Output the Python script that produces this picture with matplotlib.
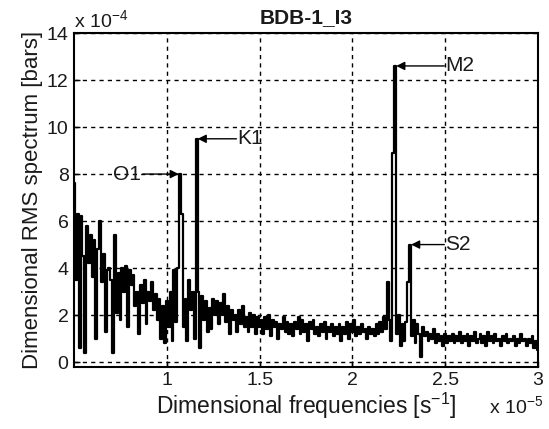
import numpy as np
import matplotlib
matplotlib.use("Agg")
import matplotlib.pyplot as plt

plt.rcParams['font.family'] = ['Liberation Sans', 'DejaVu Sans']
plt.rcParams['mathtext.fontset'] = 'custom'
plt.rcParams['mathtext.rm'] = 'Liberation Sans'
plt.rcParams['mathtext.it'] = 'Liberation Sans:italic'
plt.rcParams['mathtext.bf'] = 'Liberation Sans:bold'

# Frequencies in units of 1e-5 s^-1 (spectral grid 0.50 .. 3.00, step 0.01)
freq_start, freq_stop = 0.50, 3.00
# RMS spectrum in units of 1e-4 bars
rms = [
    7.6, 3.5, 6.3, 0.6, 6.2, 4.5, 0.4, 5.8, 4.2, 5.4,   # 0.50-0.59
    3.6, 5.2, 1.0, 4.8, 6.0, 3.4, 4.6, 1.3, 3.9, 4.0,   # 0.60-0.69
    3.5, 0.4, 5.4, 2.1, 3.8, 1.8, 4.0, 3.0, 4.1, 1.5,   # 0.70-0.79
    3.9, 3.3, 3.7, 2.4, 3.0, 1.2, 3.3, 2.5, 3.5, 1.6,   # 0.80-0.89
    3.0, 2.6, 3.4, 2.2, 2.9, 1.8, 2.7, 1.0, 2.4, 0.8,   # 0.90-0.99
    2.6, 1.5, 3.0, 0.9, 3.9, 1.7, 4.0, 8.0, 6.3, 1.5,   # 1.00-1.09
    2.7, 0.9, 3.5, 2.2, 3.0, 1.0, 9.5, 3.0, 0.6, 2.8,   # 1.10-1.19
    1.8, 2.6, 1.3, 2.3, 1.4, 2.7, 2.0, 2.6, 1.6, 2.5,   # 1.20-1.29
    2.0, 2.9, 1.7, 2.4, 1.2, 2.2, 1.8, 2.0, 1.3, 2.2,   # 1.30-1.39
    1.6, 2.4, 1.5, 1.9, 1.3, 2.1, 1.5, 2.0, 1.2, 1.9,   # 1.40-1.49
    1.5, 1.8, 1.2, 1.9, 1.4, 2.0, 1.1, 1.8, 1.5, 1.7,   # 1.50-1.59
    1.0, 1.6, 1.4, 1.9, 1.3, 1.7, 1.2, 1.6, 1.1, 1.7,   # 1.60-1.69
    1.4, 1.9, 1.2, 1.8, 1.3, 1.6, 0.9, 1.7, 1.4, 1.8,   # 1.70-1.79
    1.2, 1.5, 1.1, 1.6, 1.3, 1.7, 1.0, 1.5, 1.3, 1.6,   # 1.80-1.89
    1.1, 1.5, 1.2, 1.6, 0.9, 1.5, 1.2, 1.7, 1.0, 1.6,   # 1.90-1.99
    1.3, 1.8, 1.1, 1.5, 1.2, 1.6, 1.3, 1.4, 1.0, 1.5,   # 2.00-2.09
    1.2, 1.4, 1.1, 1.6, 1.2, 1.7, 1.3, 1.9, 1.4, 3.4,   # 2.10-2.19
    1.8, 0.9, 8.9, 12.6, 1.2, 2.0, 0.7, 1.6, 0.9, 1.7,  # 2.20-2.29
    3.4, 5.0, 1.1, 1.8, 0.8, 1.6, 1.2, 0.2, 1.5, 1.1,   # 2.30-2.39
    1.3, 0.9, 1.2, 1.0, 1.4, 0.8, 1.2, 0.9, 1.1, 0.7,   # 2.40-2.49
    1.2, 0.8, 1.1, 0.9, 1.2, 0.8, 1.1, 0.9, 1.3, 0.8,   # 2.50-2.59
    1.1, 0.9, 1.2, 0.7, 1.1, 0.9, 1.3, 0.8, 1.0, 1.2,   # 2.60-2.69
    0.8, 1.1, 0.7, 1.3, 0.9, 1.1, 0.8, 1.2, 0.9, 1.0,   # 2.70-2.79
    0.7, 1.1, 0.9, 1.2, 0.8, 1.0, 0.9, 1.1, 0.7, 1.0,   # 2.80-2.89
    0.8, 1.2, 0.9, 1.0, 0.7, 1.0, 0.8, 1.1, 0.6, 0.9,   # 2.90-2.99
    0.5,                                                # 3.00
]
freq = np.linspace(freq_start, freq_stop, len(rms))

# Constituent labels: name, peak frequency (1e-5), peak amplitude (1e-4)
const_names = ['O1', 'K1', 'M2', 'S2']
const_freq = [1.07, 1.16, 2.23, 2.31]
const_amp = [8.0, 9.5, 12.6, 5.0]

xticks = [1, 1.5, 2, 2.5, 3]
xticklabels = ['1', '1.5', '2', '2.5', '3']
yticks = [0, 2, 4, 6, 8, 10, 12, 14]

txt = '#1a1a1a'
fig = plt.figure(figsize=(5.49, 4.29), dpi=100)
ax = fig.add_axes([0.135, 0.145, 0.845, 0.778])

ax.plot(freq, rms, color='black', lw=1.6, drawstyle='steps-mid')

ax.set_xlim(0.5, 3.0)
ax.set_ylim(-0.2, 14)
ax.set_xticks(xticks)
ax.set_xticklabels(xticklabels)
ax.set_yticks(yticks)
ax.tick_params(direction='in', length=4, width=1, labelsize=14, colors='black',
               labelcolor=txt, pad=4)
ax.grid(True, color='black', linestyle=(0, (3, 3)), linewidth=1.0)
for s in ax.spines.values():
    s.set_linewidth(1.5)

ax.set_title('BDB-1_I3', fontsize=15, fontweight='bold', pad=7, color=txt)
ax.set_ylabel('Dimensional RMS spectrum [bars]', fontsize=16, labelpad=3, color=txt)
ax.set_xlabel(r'Dimensional frequencies [s$^{-1}$]', fontsize=16.5, labelpad=1, color=txt)

ax.text(0.0, 1.005, r'x 10$^{-4}$', transform=ax.transAxes, ha='left', va='bottom',
        fontsize=14, color=txt)
ax.text(1.01, -0.085, r'x 10$^{-5}$', transform=ax.transAxes, ha='right', va='top',
        fontsize=14, color=txt)

arrow_kw = dict(arrowstyle='-|>,head_length=0.5,head_width=0.25', color='black', lw=1.0,
                shrinkA=0, shrinkB=0)
# O1: label on the left, arrow points right
ax.annotate('', xy=(const_freq[0] - 0.006, const_amp[0]), xytext=(0.87, const_amp[0]),
            arrowprops=arrow_kw)
ax.text(0.86, const_amp[0], const_names[0], ha='right', va='center', fontsize=15, color=txt)
# Others: label on the right, arrow points left
tails = [None, 1.375, 2.495, 2.495]
for i in range(1, 4):
    ax.annotate('', xy=(const_freq[i] + 0.006, const_amp[i]), xytext=(tails[i], const_amp[i]),
                arrowprops=arrow_kw)
    ax.text(tails[i] + 0.005, const_amp[i], const_names[i], ha='left', va='center',
            fontsize=15, color=txt)

fig.savefig('out.png', dpi=100)
